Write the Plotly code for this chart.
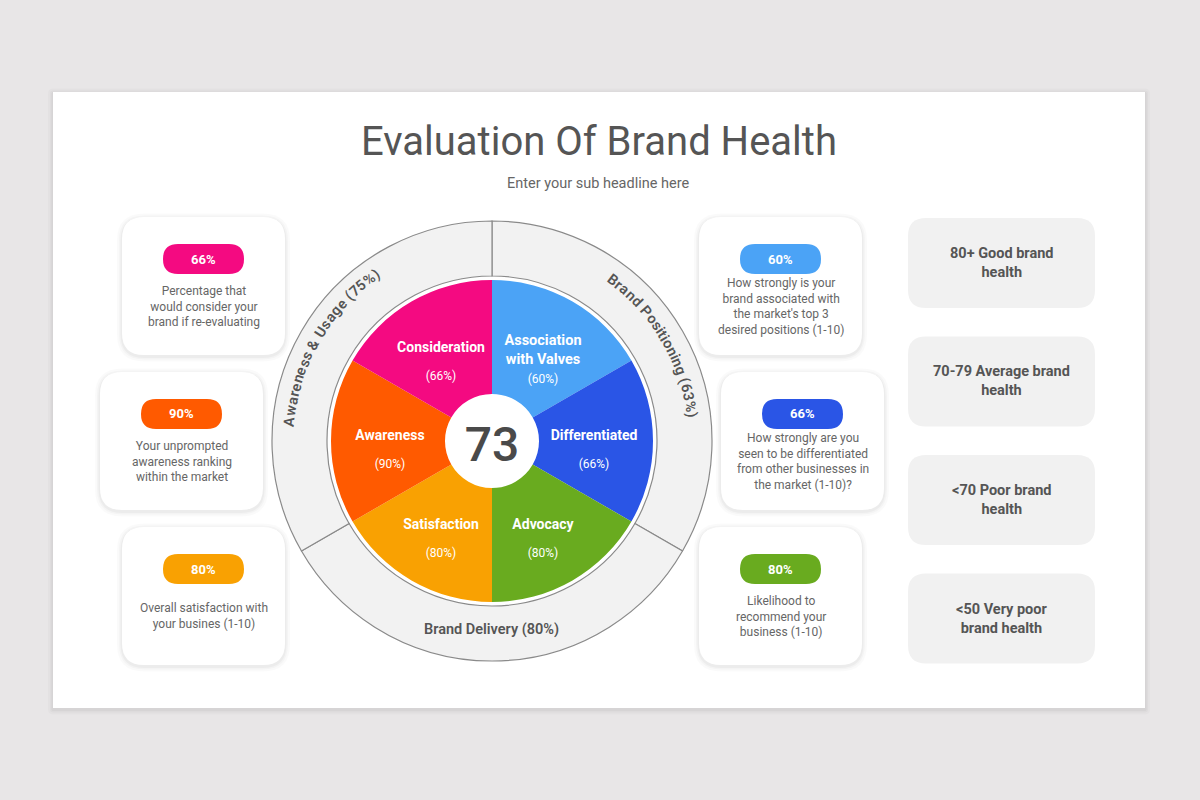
import plotly.graph_objects as go

W, H = 1200, 800

# ---- data ----
overall_score = 73

segments = ["Association<br>with Valves", "Differentiated", "Advocacy",
            "Satisfaction", "Awareness", "Consideration"]
segment_pct = [60, 66, 80, 80, 90, 66]
segment_colors = ["#4ba3f6", "#2a55e6", "#69ab1f", "#f9a102", "#ff5a00", "#f40a81"]

groups = ["Brand Positioning", "Brand Delivery", "Awareness & Usage"]
group_pct = [63, 80, 75]

left_cards = ["Consideration", "Awareness", "Satisfaction"]
left_desc = ["Percentage that<br>would consider your<br>brand if re-evaluating",
             "Your unprompted<br>awareness ranking<br>within the market",
             "Overall satisfaction with<br>your busines (1-10)"]
right_cards = ["Association<br>with Valves", "Differentiated", "Advocacy"]
right_desc = ["How strongly is your<br>brand associated with<br>the market's top 3<br>desired positions (1-10)",
              "How strongly are you<br>seen to be differentiated<br>from other businesses in<br>the market (1-10)?",
              "Likelihood to<br>recommend your<br>business (1-10)"]

health_scale = ["80+ Good brand<br>health", "70-79 Average brand<br>health",
                "&lt;70 Poor brand<br>health", "&lt;50 Very poor<br>brand health"]

title = "Evaluation Of Brand Health"
subtitle = "Enter your sub headline here"

# ---- layout constants (pixels) ----
CX, CY = 492, 441
R_DOM = 222
R_HOLE, R_PIE = 47, 161
R_RING_IN, R_RING_OUT = 165, 220
R_LABEL = 102
LABEL_DROP = 8  # label layer sits a few px lower than the pie
FONT = "Roboto"
TXT = "#555555"


def px(x, y):
    return x / W, 1 - y / H


def rrect(x0, y0, x1, y1, r):
    def p(x, y):
        a, b = px(x, y)
        return f"{a:.5f},{b:.5f}"
    return (f"M{p(x0 + r, y0)} L{p(x1 - r, y0)} Q{p(x1, y0)} {p(x1, y0 + r)} "
            f"L{p(x1, y1 - r)} Q{p(x1, y1)} {p(x1 - r, y1)} L{p(x0 + r, y1)} "
            f"Q{p(x0, y1)} {p(x0, y1 - r)} L{p(x0, y0 + r)} Q{p(x0, y0)} {p(x0 + r, y0)} Z")


shapes = []
annotations = []


def box(x0, y0, x1, y1, r, color, shadow=False):
    if shadow:
        for g, a in [(5, 0.018), (3, 0.025), (1.5, 0.03)]:
            shapes.append(dict(type="path", xref="paper", yref="paper", layer="below",
                               path=rrect(x0 - g, y0 - g + 1.5, x1 + g, y1 + g + 1.5, r + g),
                               fillcolor=f"rgba(0,0,0,{a})", line=dict(width=0)))
    shapes.append(dict(type="path", xref="paper", yref="paper", layer="below",
                       path=rrect(x0, y0, x1, y1, r), fillcolor=color, line=dict(width=0)))


def label(x, y, text, size, color=TXT, weight="normal", angle=0):
    a, b = px(x, y)
    annotations.append(dict(x=a, y=b, xref="paper", yref="paper", text=text,
                            showarrow=False, textangle=angle, xanchor="center",
                            yanchor="middle",
                            font=dict(family=FONT, size=size, color=color, weight=weight)))


CHAR_W = {"A": .652, "B": .617, "P": .63, "U": .648, "D": .655, "a": .544, "d": .55,
          "e": .517, "g": .55, "i": .237, "n": .54, "o": .557, "r": .33, "s": .504,
          "t": .32, "w": .75, "&": .62, " ": .248, "(": .334, ")": .34, "%": .716}


def arc_text(text, a0, a1, radius, size):
    import math
    w = [CHAR_W.get(c, .5615) for c in text]
    cen = [sum(w[:i]) + w[i] / 2 for i in range(len(w))]
    for c, pos in zip(text, cen):
        if c == " ":
            continue
        th = a0 + (a1 - a0) * (pos - cen[0]) / (cen[-1] - cen[0])
        x = CX + radius * math.sin(math.radians(th))
        y = CY - radius * math.cos(math.radians(th))
        ang = th if th <= 180 else th - 360
        label(x, y, c, size, weight=600, angle=ang)


# page background card
box(53, 92, 1145, 708, 0, "#ffffff", shadow=True)

label(599, 141, title, 40)
label(598, 183, subtitle, 14.5, color="#666666")

# side cards
name_idx = {s: i for i, s in enumerate(segments)}
card_tops = [217, 372, 527]
for col, (names, descs, xs) in enumerate([(left_cards, left_desc, [122, 100, 122]),
                                          (right_cards, right_desc, [699, 721, 699])]):
    for name, desc, x0, top in zip(names, descs, xs, card_tops):
        i = name_idx[name]
        box(x0, top, x0 + 163, top + 138, 22, "#ffffff", shadow=True)
        mx = x0 + 81.5
        box(mx - 40.5, top + 27, mx + 40.5, top + 57, 15, segment_colors[i])
        label(mx, top + 42, f"{segment_pct[i]}%", 13, color="#ffffff", weight="bold")
        label(mx, top + 89, desc, 12, color="#666666")

# health scale boxes
for k, txt in enumerate(health_scale):
    top = 218 + k * 118.5
    box(908, top, 1095, top + 90, 18, "#f1f1f1")
    label(1001.5, top + 45, txt, 14.5, weight="bold")

fig = go.Figure()

n = len(segments)
step = 360 / n
theta = [step * i + step / 2 for i in range(n)]
fig.add_trace(go.Barpolar(
    theta=theta, r=[R_PIE - R_HOLE] * n, base=R_HOLE, width=[step] * n,
    marker=dict(color=segment_colors, line=dict(width=0)), hoverinfo="skip"))

m = len(groups)
gstep = 360 / m
fig.add_trace(go.Barpolar(
    theta=[gstep * i + gstep / 2 for i in range(m)], r=[R_RING_OUT - R_RING_IN] * m,
    base=R_RING_IN, width=[gstep] * m,
    marker=dict(color="#f2f2f2", line=dict(color="#8a8a8a", width=1.2)), hoverinfo="skip"))

seg_text = []
sizes = []
for s, p in zip(segments, segment_pct):
    if "<br>" in s:
        seg_text.append(f"<b>{s}</b><br><span style='font-size:12px'>({p}%)</span>")
        sizes.append(14.5)
    else:
        seg_text.append(f"<span style='font-size:14px'><b>{s}</b></span><br>"
                        f"<span style='font-size:12px'>({p}%)</span>")
        sizes.append(21.5)
fig.add_trace(go.Scatterpolar(
    theta=theta, r=[R_LABEL] * n, mode="text", text=seg_text, hoverinfo="skip",
    textfont=dict(family=FONT, size=sizes, color="#ffffff"), subplot="polar2"))

fig.add_trace(go.Scatterpolar(
    theta=[0], r=[0], mode="text", text=[str(overall_score)], hoverinfo="skip",
    textfont=dict(family=FONT, size=48, color="#4a4a4a", weight=500), subplot="polar2"))

# ring labels
arc_text(f"{groups[2]} ({group_pct[2]}%)", 275.4, 325.2, 203, 14.5)
arc_text(f"{groups[0]} ({group_pct[0]}%)", 37, 82.5, 201, 14.5)
label(491, 629, f"{groups[1]} ({group_pct[1]}%)", 14.5, weight=600)


def polar_cfg(dy=0):
    return dict(
        domain=dict(x=[(CX - R_DOM) / W, (CX + R_DOM) / W],
                    y=[1 - (CY + dy + R_DOM) / H, 1 - (CY + dy - R_DOM) / H]),
        bgcolor="rgba(0,0,0,0)", bargap=0,
        radialaxis=dict(range=[0, R_DOM], visible=False),
        angularaxis=dict(rotation=90, direction="clockwise", visible=False))


fig.update_layout(
    width=W, height=H, margin=dict(l=0, r=0, t=0, b=0),
    paper_bgcolor="#e8e6e7", showlegend=False,
    shapes=shapes, annotations=annotations,
    polar=polar_cfg(), polar2=polar_cfg(LABEL_DROP),
)

fig.write_html("out.html", config={"displayModeBar": False},
               post_script="document.body.style.margin='0';")
